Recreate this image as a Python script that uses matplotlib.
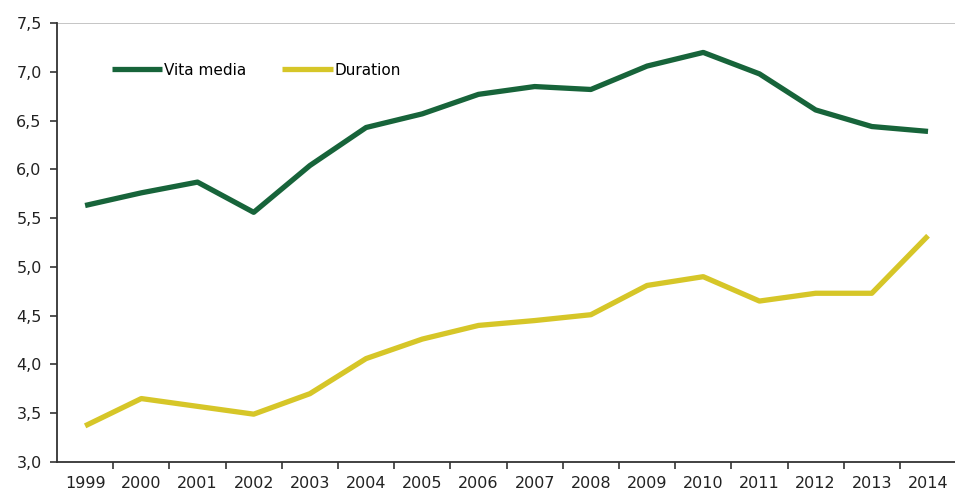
import matplotlib
matplotlib.use("Agg")
import matplotlib.pyplot as plt
import matplotlib.ticker as mticker
import numpy as np

years = ["1999", "2000", "2001", "2002", "2003", "2004", "2005", "2006",
         "2007", "2008", "2009", "2010", "2011", "2012", "2013", "2014"]
vita_media = [5.63, 5.76, 5.87, 5.56, 6.04, 6.43, 6.57, 6.77,
              6.85, 6.82, 7.06, 7.20, 6.98, 6.61, 6.44, 6.39]
duration = [3.37, 3.65, 3.57, 3.49, 3.70, 4.06, 4.26, 4.40,
            4.45, 4.51, 4.81, 4.90, 4.65, 4.73, 4.73, 5.32]

plt.rcParams["font.family"] = ["DejaVu Sans"]

fig = plt.figure(figsize=(9.55, 4.93), dpi=100)
ax = fig.add_axes([0.0597, 0.063, 0.9403 + 0.01, 0.890])

x = np.arange(len(years))
ax.plot(x, vita_media, color="#17643a", lw=3.8, label="Vita media", solid_capstyle="butt")
ax.plot(x, duration, color="#d6c628", lw=3.8, label="Duration", solid_capstyle="butt")

ax.set_xlim(-0.5, len(years) - 0.5 + 0.15)
ax.set_ylim(3.0, 7.5)

ax.set_xticks(x)
ax.set_xticklabels(years, fontsize=11.5, color="#222222")
ax.set_xticks(np.arange(len(years)) + 0.5, minor=True)
ax.tick_params(axis="x", which="major", length=0, pad=10)
ax.tick_params(axis="x", which="minor", length=5, direction="out", color="#333333", width=1.2)

ax.set_yticks(np.arange(3.0, 7.51, 0.5))
ax.yaxis.set_major_formatter(mticker.FuncFormatter(lambda v, p: f"{v:.1f}".replace(".", ",")))
ax.tick_params(axis="y", length=5, direction="out", labelsize=11.5, labelcolor="#222222",
               color="#333333", width=1.2, pad=6)

ax.axhline(7.5, color="#bbbbbb", lw=1.2)
for s in ["top", "right"]:
    ax.spines[s].set_visible(False)
for s in ["left", "bottom"]:
    ax.spines[s].set_color("#333333")
    ax.spines[s].set_linewidth(1.3)

ax.legend(loc="center left", bbox_to_anchor=(0.045, 0.893), ncol=2, frameon=False,
          fontsize=11, handlelength=3.3, handletextpad=0.1, columnspacing=2.4)

fig.savefig("out.png", dpi=100)
